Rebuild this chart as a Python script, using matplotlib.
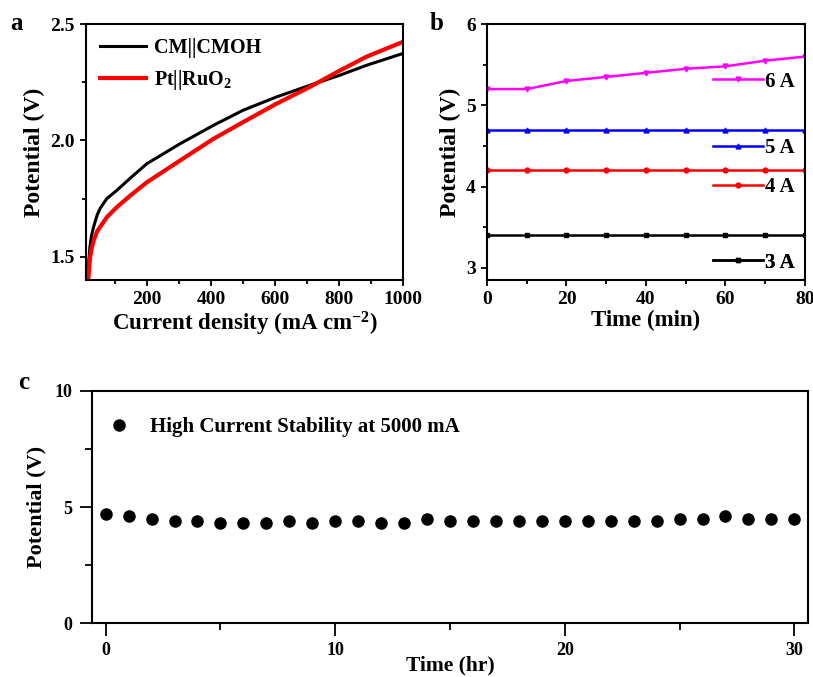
import matplotlib
matplotlib.use("Agg")
import matplotlib.pyplot as plt
from matplotlib.lines import Line2D
from matplotlib.ticker import MultipleLocator

plt.rcParams["font.family"] = ["Liberation Serif", "DejaVu Serif"]
plt.rcParams["font.weight"] = "bold"
plt.rcParams["mathtext.fontset"] = "custom"
plt.rcParams["mathtext.rm"] = "Liberation Serif:bold"
plt.rcParams["mathtext.it"] = "Liberation Serif:bold"
plt.rcParams["mathtext.bf"] = "Liberation Serif:bold"

# panel a: polarisation curves
cmoh_j = [15, 18, 22, 27, 34, 45, 55, 75, 106, 150, 200, 304, 408, 501, 605, 709, 802, 886, 1000]
cmoh_v = [1.40, 1.47, 1.54, 1.59, 1.63, 1.68, 1.71, 1.75, 1.785, 1.84, 1.90, 1.986, 2.065,
          2.13, 2.187, 2.237, 2.28, 2.323, 2.374]
ptru_j = [17, 20, 23, 28, 35, 45, 55, 75, 106, 150, 200, 304, 408, 501, 605, 709, 802, 886, 1000]
ptru_v = [1.40, 1.46, 1.50, 1.54, 1.575, 1.61, 1.63, 1.67, 1.713, 1.765, 1.82, 1.914, 2.007,
          2.079, 2.158, 2.23, 2.30, 2.36, 2.424]

# panel b: chronopotentiometry at different currents
time_min = [0, 10, 20, 30, 40, 50, 60, 70, 80]
v_6a = [5.2, 5.2, 5.3, 5.35, 5.4, 5.45, 5.48, 5.55, 5.6]
v_5a = [4.7, 4.7, 4.7, 4.7, 4.7, 4.7, 4.7, 4.7, 4.7]
v_4a = [4.2, 4.2, 4.2, 4.2, 4.2, 4.2, 4.2, 4.2, 4.2]
v_3a = [3.4, 3.4, 3.4, 3.4, 3.4, 3.4, 3.4, 3.4, 3.4]

# panel c: long-term stability
time_hr = list(range(31))
v_5000 = [4.7, 4.6, 4.5, 4.4, 4.4, 4.3, 4.3, 4.3, 4.4, 4.3, 4.4, 4.4, 4.3, 4.3, 4.5, 4.4,
          4.4, 4.4, 4.4, 4.4, 4.4, 4.4, 4.4, 4.4, 4.4, 4.5, 4.5, 4.6, 4.5, 4.5, 4.5]


def style_axes(ax, fs=14, major=4.5, minor=3, pad=3.5):
    for s in ax.spines.values():
        s.set_linewidth(1.5)
    ax.tick_params(which="both", direction="out", width=1.3, top=False, right=False)
    ax.tick_params(which="major", length=major, labelsize=fs, pad=pad)
    ax.tick_params(which="minor", length=minor)
    for lab in ax.get_xticklabels() + ax.get_yticklabels():
        lab.set_fontweight("bold")


fig = plt.figure(figsize=(8.13, 6.77), dpi=100, facecolor="white")

# ---- a ----
ax_a = fig.add_axes([0.1058, 0.5864, 0.39, 0.378])
ax_a.plot(cmoh_j, cmoh_v, color="black", lw=2.2, label="CM||CMOH")
ax_a.plot(ptru_j, ptru_v, color="#ff0000", lw=3.0, label=r"Pt||RuO$_2$")
ax_a.set_xlim(10, 1000)
ax_a.set_ylim(1.4, 2.5)
ax_a.xaxis.set_major_locator(MultipleLocator(200))
ax_a.xaxis.set_minor_locator(MultipleLocator(100))
ax_a.yaxis.set_major_locator(MultipleLocator(0.5))
ax_a.yaxis.set_minor_locator(MultipleLocator(0.25))
ax_a.set_xlabel(r"Current density (mA cm$^{-2}$)", fontsize=16.5, fontweight="bold", labelpad=1)
ax_a.set_ylabel("Potential (V)", fontsize=17, fontweight="bold", labelpad=4)
ax_a.legend(loc="upper left", frameon=False, handlelength=2.3, handletextpad=0.4,
            borderaxespad=0.3, labelspacing=0.5, prop={"weight": "bold", "size": 14.5})
style_axes(ax_a)
fig.text(0.012, 0.955, "a", fontsize=18, fontweight="bold")

# ---- b ----
ax_b = fig.add_axes([0.599, 0.5864, 0.391, 0.378])
series_b = [(v_6a, "#ff00ff", "v", "6 A", 0.775),
            (v_5a, "#0000ff", "^", "5 A", 0.514),
            (v_4a, "#ff0000", "o", "4 A", 0.364),
            (v_3a, "black", "s", "3 A", 0.068)]
for vals, col, mk, lab, ypos in series_b:
    ax_b.plot(time_min, vals, color=col, lw=1.8, marker=mk, ms=3.5)
for vals, col, mk, lab, ypos in series_b:
    h = Line2D([], [], color=col, lw=1.8, marker=mk, ms=3.5)
    leg = ax_b.legend([h], [lab], loc="center right", bbox_to_anchor=(1.0, ypos),
                      frameon=False, handlelength=2.4, handletextpad=0.1,
                      borderaxespad=0.1, prop={"weight": "bold", "size": 15})
    ax_b.add_artist(leg)
ax_b.set_xlim(0, 80)
ax_b.set_ylim(2.85, 6)
ax_b.xaxis.set_major_locator(MultipleLocator(20))
ax_b.xaxis.set_minor_locator(MultipleLocator(10))
ax_b.yaxis.set_major_locator(MultipleLocator(1))
ax_b.yaxis.set_minor_locator(MultipleLocator(0.5))
ax_b.set_xlabel("Time (min)", fontsize=16.5, fontweight="bold", labelpad=1)
ax_b.set_ylabel("Potential (V)", fontsize=17, fontweight="bold", labelpad=4)
style_axes(ax_b)
fig.text(0.529, 0.955, "b", fontsize=18, fontweight="bold")

# ---- c ----
ax_c = fig.add_axes([0.113, 0.0797, 0.881, 0.3428])
ax_c.plot(time_hr, v_5000, "o", color="black", ms=8, ls="none",
          label="High Current Stability at 5000 mA")
ax_c.set_xlim(-0.6, 30.6)
ax_c.set_ylim(0, 10)
ax_c.xaxis.set_major_locator(MultipleLocator(10))
ax_c.xaxis.set_minor_locator(MultipleLocator(5))
ax_c.yaxis.set_major_locator(MultipleLocator(5))
ax_c.yaxis.set_minor_locator(MultipleLocator(2.5))
ax_c.set_xlabel("Time (hr)", fontsize=15.5, fontweight="bold", labelpad=-3)
ax_c.set_ylabel("Potential (V)", fontsize=16, fontweight="bold", labelpad=6)
ax_c.legend(loc="upper left", bbox_to_anchor=(0.0, 0.95), frameon=False,
            handlelength=1.2, handletextpad=0.9, borderaxespad=0.3,
            prop={"weight": "bold", "size": 15})
style_axes(ax_c, fs=13, major=9, minor=5, pad=5)
fig.text(0.022, 0.425, "c", fontsize=18, fontweight="bold")

plt.savefig("out.png", dpi=100, facecolor="white")
plt.close(fig)
